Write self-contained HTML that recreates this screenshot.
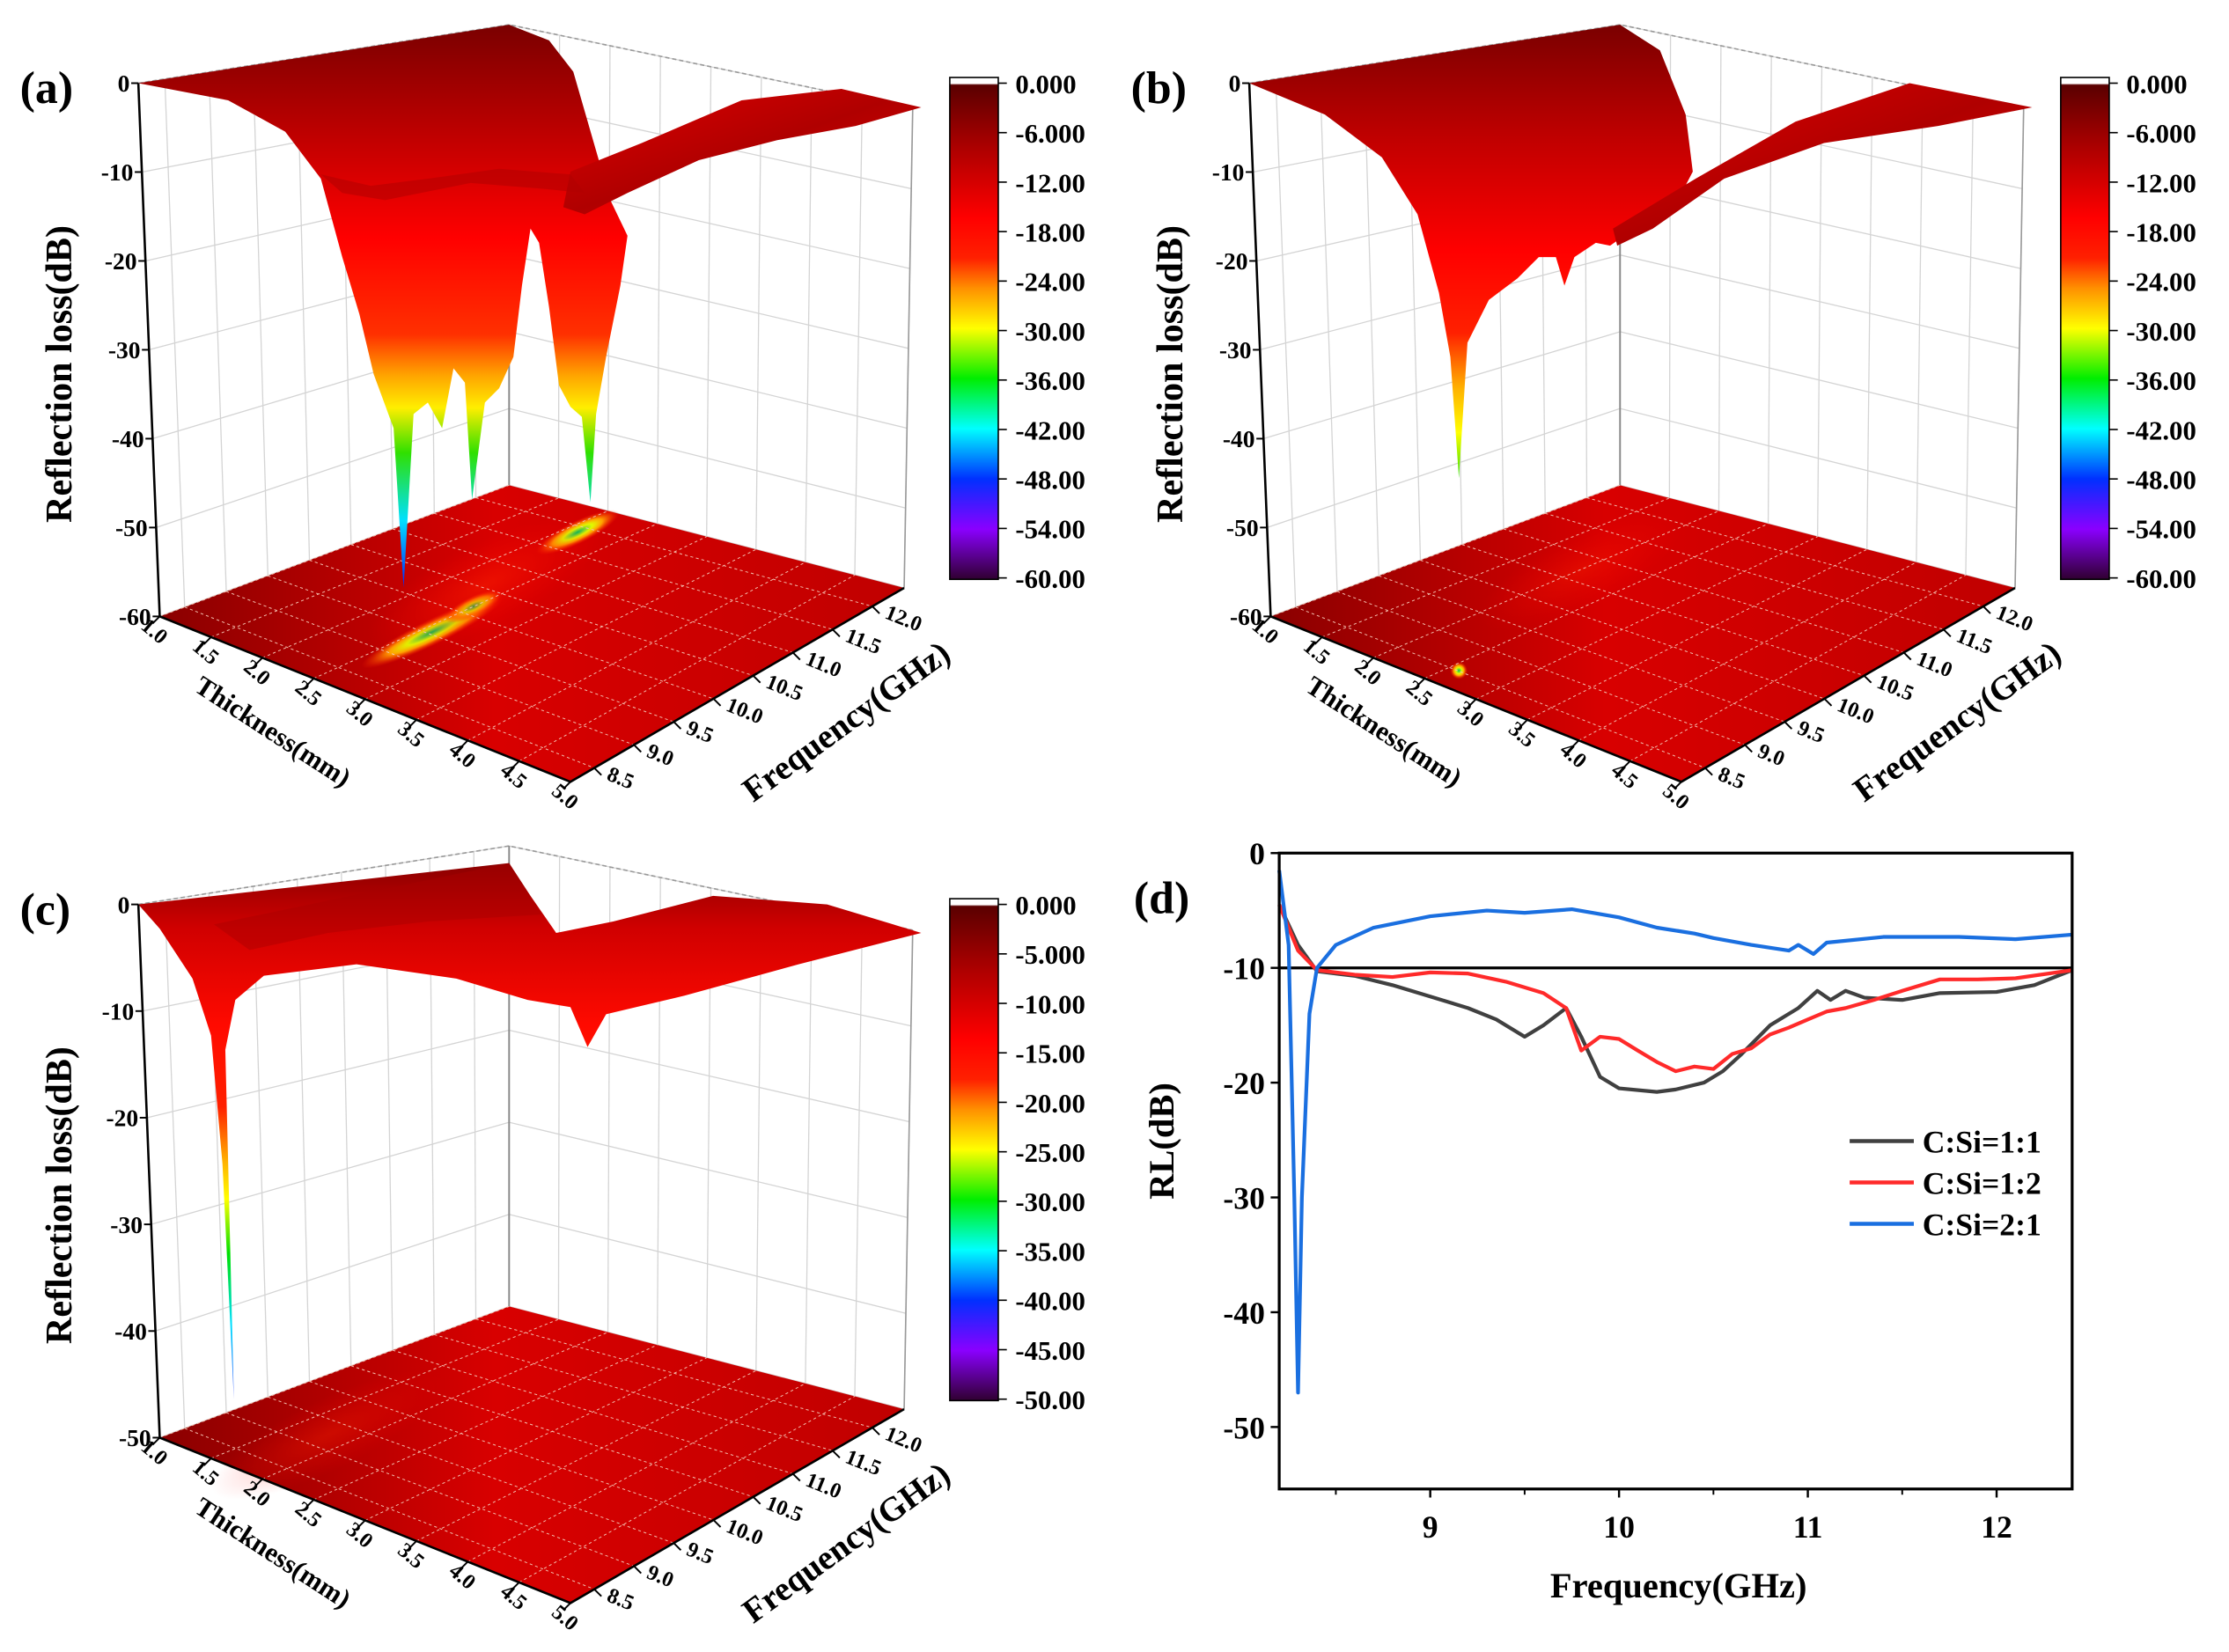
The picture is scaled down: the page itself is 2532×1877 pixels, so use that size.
<!DOCTYPE html>
<html><head><meta charset="utf-8"><style>
html,body{margin:0;padding:0;background:#fff;}
svg{display:block;}
text{font-family:"Liberation Serif",serif;font-weight:bold;fill:#000;}
</style></head><body>
<svg id="fig" xmlns="http://www.w3.org/2000/svg" width="2532" height="1877" viewBox="0 0 1563 1158">
<defs>
<linearGradient id="cbar" x1="0" y1="0" x2="0" y2="1">
<stop offset="0" stop-color="#ffffff"/><stop offset="0.012" stop-color="#ffffff"/>
<stop offset="0.015" stop-color="#5a0000"/><stop offset="0.12" stop-color="#a00000"/>
<stop offset="0.28" stop-color="#ff0000"/><stop offset="0.36" stop-color="#ff2000"/>
<stop offset="0.42" stop-color="#ff9000"/><stop offset="0.5" stop-color="#ffff00"/>
<stop offset="0.6" stop-color="#00ee00"/><stop offset="0.7" stop-color="#00ffff"/>
<stop offset="0.8" stop-color="#0030ff"/><stop offset="0.9" stop-color="#8a00ff"/>
<stop offset="1" stop-color="#300030"/></linearGradient>
<linearGradient id="surfA" gradientUnits="userSpaceOnUse" x1="0" y1="17" x2="0" y2="412">
<stop offset="0" stop-color="#7a0000"/><stop offset="0.2" stop-color="#c00000"/>
<stop offset="0.38" stop-color="#ff0000"/><stop offset="0.55" stop-color="#ff3000"/>
<stop offset="0.62" stop-color="#ffa000"/><stop offset="0.68" stop-color="#ffee00"/>
<stop offset="0.76" stop-color="#30e000"/><stop offset="0.88" stop-color="#00e0ff"/>
<stop offset="1" stop-color="#0020ff"/></linearGradient>
<linearGradient id="surfB" gradientUnits="userSpaceOnUse" x1="0" y1="17" x2="0" y2="335">
<stop offset="0" stop-color="#7a0000"/><stop offset="0.25" stop-color="#c00000"/>
<stop offset="0.5" stop-color="#ff0000"/><stop offset="0.68" stop-color="#ff2000"/>
<stop offset="0.8" stop-color="#ffb000"/><stop offset="0.9" stop-color="#ffff00"/>
<stop offset="1" stop-color="#30e000"/></linearGradient>
<linearGradient id="surfC" gradientUnits="userSpaceOnUse" x1="0" y1="29" x2="0" y2="409">
<stop offset="0" stop-color="#8a0000"/><stop offset="0.12" stop-color="#d00000"/>
<stop offset="0.3" stop-color="#ff0a00"/><stop offset="0.45" stop-color="#ff2000"/>
<stop offset="0.55" stop-color="#ffb000"/><stop offset="0.62" stop-color="#ffff00"/>
<stop offset="0.72" stop-color="#00e000"/><stop offset="0.85" stop-color="#00e0ff"/>
<stop offset="1" stop-color="#4040ff"/></linearGradient>
<linearGradient id="wing" x1="0" y1="0" x2="1" y2="1">
<stop offset="0" stop-color="#e00000"/><stop offset="0.5" stop-color="#b00000"/><stop offset="1" stop-color="#e00000"/></linearGradient>
<linearGradient id="floor" x1="0" y1="0" x2="1" y2="0">
<stop offset="0" stop-color="#8a0000"/><stop offset="0.45" stop-color="#d80000"/><stop offset="1" stop-color="#c00000"/></linearGradient>
<radialGradient id="hot"><stop offset="0" stop-color="#00c060"/><stop offset="0.35" stop-color="#e0ff00"/><stop offset="0.6" stop-color="#ffa000"/><stop offset="1" stop-color="#ff2000" stop-opacity="0"/></radialGradient>
<radialGradient id="glow"><stop offset="0" stop-color="#ff2000"/><stop offset="1" stop-color="#ff0000" stop-opacity="0"/></radialGradient>
</defs>
<g id="panels"></g>
<g id="panelD"></g>
</svg>
<script>
// ---------- Panel (d) data ----------
const xTicks = [9, 10, 11, 12];
const yTicks = [0, -10, -20, -30, -40, -50];
const seriesNames = ["C:Si=1:1", "C:Si=1:2", "C:Si=2:1"];
const seriesColors = ["#404040", "#ff2a2a", "#1a6fe0"];
const freq11 = [8.2,8.3,8.4,8.6,8.8,9.0,9.2,9.35,9.5,9.6,9.72,9.8,9.9,10.0,10.2,10.3,10.45,10.55,10.65,10.8,10.95,11.05,11.12,11.2,11.3,11.5,11.7,12.0,12.2,12.4];
const rl11 = [-4.5,-8,-10.3,-10.7,-11.5,-12.5,-13.5,-14.5,-16,-15,-13.5,-16,-19.5,-20.5,-20.8,-20.6,-20,-19,-17.5,-15,-13.5,-12,-12.8,-12,-12.6,-12.8,-12.2,-12.1,-11.5,-10.2];
const freq12 = [8.2,8.3,8.4,8.6,8.8,9.0,9.2,9.4,9.6,9.72,9.8,9.9,10.0,10.1,10.2,10.3,10.4,10.5,10.6,10.7,10.8,10.9,11.0,11.1,11.2,11.35,11.5,11.7,11.9,12.1,12.4];
const rl12 = [-4.5,-8.5,-10.2,-10.6,-10.8,-10.4,-10.5,-11.2,-12.2,-13.5,-17.2,-16,-16.2,-17.2,-18.2,-19,-18.6,-18.8,-17.5,-17,-15.8,-15.2,-14.5,-13.8,-13.5,-12.8,-12,-11,-11,-10.9,-10.2];
const freq21 = [8.2,8.25,8.28,8.3,8.32,8.36,8.4,8.5,8.7,9.0,9.3,9.5,9.75,10.0,10.2,10.4,10.5,10.7,10.9,10.95,11.03,11.1,11.4,11.8,12.1,12.4];
const rl21 = [-1.5,-8,-30,-47,-30,-14,-10,-8,-6.5,-5.5,-5,-5.2,-4.9,-5.6,-6.5,-7,-7.4,-8,-8.5,-8,-8.8,-7.8,-7.3,-7.3,-7.5,-7.1];
const refLevel = -10;

const NS = "http://www.w3.org/2000/svg";
function mk(tag, attrs, parent, txt){
  const e = document.createElementNS(NS, tag);
  for (const k in attrs) e.setAttribute(k, attrs[k]);
  if (txt !== undefined) e.textContent = txt;
  if (parent) parent.appendChild(e);
  return e;
}
// panel d
(function(){
  const g = document.getElementById('panelD');
  const X0=897, X1=1453, Y0=598, Y1=1044, xmin=8.2, xmax=12.4, ymax=0, ymin=-55.4;
  const sx = v => X0 + (v-xmin)/(xmax-xmin)*(X1-X0);
  const sy = v => Y0 + (ymax-v)/(ymax-ymin)*(Y1-Y0);
  const lbl = mk('text',{x:795,y:640,'font-size':32},g,'(d)');
  
  
  xTicks.forEach(t=>{
    const tk = mk('line',{x1:sx(t),x2:sx(t),y1:Y1,y2:Y1+6,stroke:'#000','stroke-width':1.5},g);
    
    
    const tl = mk('text',{x:sx(t),y:Y1+34,'text-anchor':'middle','font-size':22},g,String(t));
    
    
  });
  [8.5,9.5,10.5,11.5].forEach(t=>{
    mk('line',{x1:sx(t),x2:sx(t),y1:Y1,y2:Y1+4,stroke:'#000','stroke-width':1.2},g);
  });
  yTicks.forEach(t=>{
    const tk = mk('line',{x1:X0-6,x2:X0,y1:sy(t),y2:sy(t),stroke:'#000','stroke-width':1.5},g);
    
    
    const tl = mk('text',{x:X0-10,y:sy(t)+8,'text-anchor':'end','font-size':22},g,String(t));
    
    
  });
  const ref = mk('line',{x1:X0,x2:X1,y1:sy(refLevel),y2:sy(refLevel),stroke:'#000','stroke-width':2},g);
  
  
  const xs=[freq11,freq12,freq21], ys=[rl11,rl12,rl21];
  for(let s=0;s<3;s++){
    const d = xs[s].map((f,i)=>(i?'L':'M')+sx(f).toFixed(1)+','+sy(ys[s][i]).toFixed(1)).join(' ');
    const p = mk('path',{d:d,fill:'none',stroke:seriesColors[s],'stroke-width':2.6,'stroke-linejoin':'round'},g);
    
    
    const ly = 800 + s*29;
    const ll = mk('line',{x1:1297,x2:1342,y1:ly,y2:ly,stroke:seriesColors[s],'stroke-width':2.8},g);
    
    
    const lt = mk('text',{x:1348,y:ly+8,'font-size':22},g,seriesNames[s]);
    
    
  }
  const fr = mk('rect',{x:X0,y:Y0,width:X1-X0,height:Y1-Y0,fill:'none',stroke:'#000','stroke-width':2},g);
  
  
  const xt = mk('text',{x:1177,y:1120,'text-anchor':'middle','font-size':25},g,'Frequency(GHz)');
  
  
  const yt = mk('text',{x:0,y:0,'text-anchor':'middle','font-size':25,transform:'translate(823,800) rotate(-90)'},g,'RL(dB)');
  
  
})();

// ---------- 3D panels ----------
const zTicksAB = [0,-10,-20,-30,-40,-50,-60];
const zTicksC = [0,-10,-20,-30,-40,-50];
const cbLabelsAB = ["0.000","-6.000","-12.00","-18.00","-24.00","-30.00","-36.00","-42.00","-48.00","-54.00","-60.00"];
const cbLabelsC = ["0.000","-5.000","-10.00","-15.00","-20.00","-25.00","-30.00","-35.00","-40.00","-45.00","-50.00"];
const thkTicks = [1.0,1.5,2.0,2.5,3.0,3.5,4.0,4.5,5.0];
const frqTicks = [8.5,9.0,9.5,10.0,10.5,11.0,11.5,12.0];

function lerp(a,b,t){return [a[0]+(b[0]-a[0])*t, a[1]+(b[1]-a[1])*t];}
function panel3d(name, dx, dy, zt, cbl, surfaceSVG, floorExtra){
  const root = document.getElementById('panels');
  const g = mk('g',{transform:`translate(${dx},${dy})`},root);
  
  
  const TL=[97,58], L=[112,432], TB=[357,17], B=[357,340], TR=[640,76], R=[634,412], F=[400,548];
  const zmin = zt[zt.length-1];
  const wall = (b0,b1,t0,t1,u,zf)=>{ const bp=lerp(b0,b1,u), tp=lerp(t0,t1,u); return lerp(tp,bp,zf); };
  const grid = mk('g',{stroke:'#d4d4d4','stroke-width':0.8,fill:'none'},g);
  
  
  frqTicks.forEach(f=>{ const u=(f-8.2)/4.2;
    const a=wall(L,B,TL,TB,u,0), b=wall(L,B,TL,TB,u,1);
    mk('line',{x1:a[0],y1:a[1],x2:b[0],y2:b[1]},grid); });
  thkTicks.forEach(t=>{ const u=1-(t-1)/4;
    const a=wall(R,B,TR,TB,u,0), b=wall(R,B,TR,TB,u,1);
    mk('line',{x1:a[0],y1:a[1],x2:b[0],y2:b[1]},grid); });
  zt.forEach(z=>{ const zf=z/zmin;
    const a=wall(L,B,TL,TB,0,zf), b=wall(L,B,TL,TB,1,zf), c=wall(R,B,TR,TB,0,zf);
    mk('polyline',{points:`${a} ${b} ${c}`},grid); });
  mk('polyline',{points:`${TL} ${TB} ${TR}`,stroke:'#999','stroke-dasharray':'3,2',fill:'none','stroke-width':1},g);
  mk('line',{x1:TB[0],y1:TB[1],x2:B[0],y2:B[1],stroke:'#888','stroke-width':1.2},g);
  mk('line',{x1:TR[0],y1:TR[1],x2:R[0],y2:R[1],stroke:'#999','stroke-width':1},g);
  const fl = mk('polygon',{points:`${L} ${F} ${R} ${B}`,fill:'url(#floor)'},g);
  
  
  const P=(u,v)=>[L[0]*(1-u)*(1-v)+F[0]*u*(1-v)+R[0]*u*v+B[0]*(1-u)*v, L[1]*(1-u)*(1-v)+F[1]*u*(1-v)+R[1]*u*v+B[1]*(1-u)*v];
  const fx = mk('g',{},g); fx.innerHTML = floorExtra;
  const fg = mk('g',{stroke:'#f4c0b0','stroke-width':0.6,'stroke-dasharray':'2,2',fill:'none'},g);
  thkTicks.forEach(t=>{const u=(t-1)/4; const a=P(u,0),b=P(u,1); mk('line',{x1:a[0],y1:a[1],x2:b[0],y2:b[1]},fg);});
  frqTicks.forEach(f=>{const v=(f-8.2)/4.2; const a=P(0,v),b=P(1,v); mk('line',{x1:a[0],y1:a[1],x2:b[0],y2:b[1]},fg);});
  const sg = mk('g',{},g); sg.innerHTML = surfaceSVG;
  mk('polyline',{points:`${TL} ${L} ${F} ${R}`,fill:'none',stroke:'#000','stroke-width':1.6},g);
  zt.forEach(z=>{ const p=lerp(TL,L,z/zmin);
    mk('line',{x1:p[0]-5,y1:p[1],x2:p[0],y2:p[1],stroke:'#000','stroke-width':1.2},g);
    const t=mk('text',{x:p[0]-6,y:p[1]+6,'text-anchor':'end','font-size':17},g,String(z));
    
     });
  thkTicks.forEach(tv=>{ const p=lerp(L,F,(tv-1)/4);
    mk('line',{x1:p[0],y1:p[1],x2:p[0]-5,y2:p[1]+5,stroke:'#000','stroke-width':1.2},g);
    const t=mk('text',{x:0,y:0,'font-size':15,transform:`translate(${p[0]-14},${p[1]+8}) rotate(40)`},g,tv.toFixed(1));
    
     });
  frqTicks.forEach(fv=>{ const p=lerp(F,R,(fv-8.2)/4.2);
    mk('line',{x1:p[0],y1:p[1],x2:p[0]+5,y2:p[1]+5,stroke:'#000','stroke-width':1.2},g);
    const t=mk('text',{x:0,y:0,'font-size':15,transform:`translate(${p[0]+8},${p[1]+8}) rotate(22)`},g,fv.toFixed(1));
    
     });
  const tt=mk('text',{x:0,y:0,'font-size':19,'text-anchor':'middle',transform:'translate(188,518) rotate(33)'},g,'Thickness(mm)');
  
  
  const ft=mk('text',{x:0,y:0,'font-size':24,'text-anchor':'middle',transform:'translate(598,512) rotate(-36)'},g,'Frequency(GHz)');
  
  
  const zt2=mk('text',{x:0,y:0,'font-size':26,'text-anchor':'middle',transform:'translate(50,262) rotate(-90)'},g,'Reflection loss(dB)');
  
  
  const pl=mk('text',{x:14,y:72,'font-size':32},g,'('+name+')');
  
  
  const cb=mk('rect',{x:666,y:54,width:34,height:352,fill:'url(#cbar)',stroke:'#000','stroke-width':1},g);
  
  
  cbl.forEach((s,i)=>{ const y=58+i*34.7;
    mk('line',{x1:700,x2:706,y1:y,y2:y,stroke:'#000','stroke-width':1},g);
    const t=mk('text',{x:712,y:y+7,'font-size':19},g,s);
    
     });
}

const surfA = `
<polygon fill="url(#surfA)" points="97,58 357,17 385,28 402,50 415,95 428,140 440,165 435,200 425,250 418,290 414,352 408,292 400,285 392,270 385,215 378,170 372,160 366,200 360,250 350,272 340,282 331,350 326,268 318,258 310,300 300,282 290,290 283,412 276,300 262,262 252,220 240,180 225,125 200,92 160,70"/>
<polygon fill="url(#wing)" points="400,120 450,100 520,70 590,62 646,75 600,88 545,98 490,112 440,135 410,150 395,145"/>
<polygon fill="#b00000" opacity="0.55" points="225,122 260,130 300,125 350,118 400,122 410,135 380,132 330,128 270,140 240,135"/>
`;
const floorA = `
<ellipse cx="303" cy="443" rx="55" ry="9" fill="url(#hot)" transform="rotate(-26 303 443)"/>
<ellipse cx="332" cy="425" rx="22" ry="7" fill="url(#hot)" transform="rotate(-26 332 425)"/>
<ellipse cx="405" cy="373" rx="32" ry="8" fill="url(#hot)" transform="rotate(-26 405 373)"/>
<ellipse cx="340" cy="410" rx="90" ry="30" fill="url(#glow)" opacity="0.5" transform="rotate(-26 340 410)"/>`;
const surfB = `
<polygon fill="url(#surfB)" points="97,58 357,17 385,35 403,80 408,120 395,145 370,158 350,172 340,170 325,180 318,200 312,180 300,180 285,195 265,210 250,240 244,335 238,250 230,205 215,150 190,110 150,80"/>
<polygon fill="url(#wing)" points="352,160 410,125 480,85 560,58 646,75 580,88 500,100 430,125 380,160 355,172"/>
`;
const floorB = `<circle cx="244" cy="470" r="6" fill="url(#hot)"/><ellipse cx="330" cy="400" rx="80" ry="25" fill="url(#glow)" opacity="0.35" transform="rotate(-26 330 400)"/>`;
const surfC = `
<polygon fill="url(#surfC)" points="97,58 357,29 372,52 390,78 430,70 500,52 580,58 646,78 560,100 480,122 425,135 412,158 400,130 370,125 320,110 250,100 185,108 165,125 158,160 160,240 164,405 156,240 148,150 135,110 112,75"/>
<polygon fill="#a80000" opacity="0.45" points="150,72 357,29 380,65 300,70 230,78 175,90"/>
`;
const floorC = `<ellipse cx="230" cy="430" rx="90" ry="25" fill="url(#glow)" opacity="0.35" transform="rotate(-26 230 430)"/>`;

panel3d('a', 0, 0, zTicksAB, cbLabelsAB, surfA, floorA);
panel3d('b', 779, 0, zTicksAB, cbLabelsAB, surfB, floorB);
panel3d('c', 0, 576, zTicksC, cbLabelsC, surfC, floorC);
</script>
</body></html>
